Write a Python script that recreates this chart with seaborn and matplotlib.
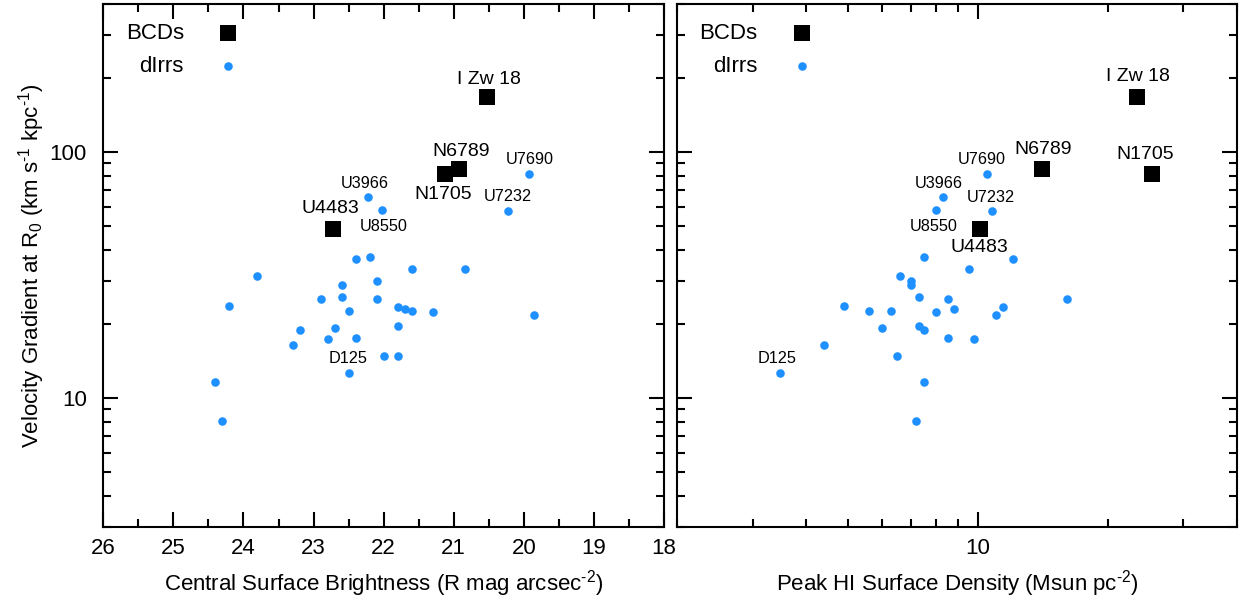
import numpy as np
import pandas as pd
import matplotlib
matplotlib.use("Agg")
import matplotlib.pyplot as plt
import matplotlib.ticker as mticker
import seaborn as sns

# ---------------- data ----------------
bcd_names = ["I Zw 18", "N6789", "N1705", "U4483"]
bcd_mu = [20.52, 20.92, 21.12, 22.72]          # R mag arcsec^-2
bcd_sigma = [23.4, 14.1, 25.3, 10.1]           # Msun pc^-2
bcd_grad = [167.0, 85.5, 81.5, 48.9]           # km/s/kpc

named_dirr = ["U7690", "U3966", "U8550", "U7232"]
named_mu = [19.93, 22.22, 22.02, 20.23]
named_sigma = [10.5, 8.32, 8.01, 10.8]
named_grad = [81.7, 65.6, 58.3, 57.5]

dirr_mu = [22.40, 22.20, 23.80, 21.60, 20.84, 22.60, 22.10, 22.90, 22.60, 22.10,
           24.20, 21.80, 21.70, 21.60, 22.50, 21.30, 19.85, 23.20, 22.70, 21.80,
           22.80, 22.40, 23.30, 22.00, 21.80, 22.50, 24.40, 24.30]
dirr_grad_l = [36.6, 37.4, 31.3, 33.4, 33.4, 28.9, 29.8, 25.4, 25.7, 25.2,
               23.7, 23.5, 23.1, 22.5, 22.6, 22.3, 21.7, 19.0, 19.3, 19.7,
               17.4, 17.5, 16.5, 14.8, 14.8, 12.7, 11.6, 8.1]

dirr_sigma = [7.50, 12.04, 9.52, 6.59, 7.00, 7.00, 7.30, 8.51, 16.1, 4.90,
              11.43, 8.81, 5.59, 6.29, 8.00, 11.04, 5.99, 7.30, 7.50, 8.51,
              9.80, 4.39, 6.50, 3.48, 7.50, 7.20]
dirr_grad_r = [37.4, 36.6, 33.4, 31.3, 29.8, 28.9, 25.7, 25.4, 25.2, 23.7,
               23.5, 23.1, 22.6, 22.5, 22.3, 21.7, 19.3, 19.7, 19.0, 17.5,
               17.4, 16.5, 14.8, 12.7, 11.6, 8.1]

# labelled small dIrr D125
d125_mu, d125_sigma, d125_grad = 22.50, 3.48, 12.7

# ---------------- style ----------------
sns.set_style("ticks")
plt.rcParams["font.family"] = ["Liberation Sans", "DejaVu Sans"]
plt.rcParams["mathtext.fontset"] = "custom"
plt.rcParams["mathtext.rm"] = "Liberation Sans"
plt.rcParams["mathtext.it"] = "Liberation Sans:italic"
plt.rcParams["axes.unicode_minus"] = False
plt.rcParams["axes.linewidth"] = 1.5
plt.rcParams["axes.edgecolor"] = "black"
plt.rcParams["text.color"] = "black"
plt.rcParams["axes.labelcolor"] = "black"
plt.rcParams["xtick.color"] = "black"
plt.rcParams["ytick.color"] = "black"

BLUE = "#1E90FF"
SQ = 125
DOT = 38
BIG = 14
SMALL = 11.7
TICKFS = 16

fig = plt.figure(figsize=(12.43, 6.01), dpi=100)
axL = fig.add_axes([0.0831, 0.1236, 0.4511, 0.8697])
axR = fig.add_axes([0.5444, 0.1236, 0.4510, 0.8697])

dL = pd.DataFrame({"x": dirr_mu + named_mu, "y": dirr_grad_l + named_grad})
bL = pd.DataFrame({"x": bcd_mu, "y": bcd_grad})
dR = pd.DataFrame({"x": dirr_sigma + named_sigma, "y": dirr_grad_r + named_grad})
bR = pd.DataFrame({"x": bcd_sigma, "y": bcd_grad})

for ax, dd, bb in [(axL, dL, bL), (axR, dR, bR)]:
    sns.scatterplot(data=bb, x="x", y="y", ax=ax, marker="s", s=SQ, color="black",
                    linewidth=0, label="BCDs", zorder=3)
    sns.scatterplot(data=dd, x="x", y="y", ax=ax, marker="o", s=DOT, color=BLUE,
                    linewidth=0, label="dIrrs", zorder=3)

# annotations (pixel offsets: dx, dy ; screen y up-positive)
bcd_off_L = {"I Zw 18": (2, 18), "N6789": (2, 17), "N1705": (-2, -21), "U4483": (-3, 20)}
bcd_off_R = {"I Zw 18": (1, 21), "N6789": (1, 19), "N1705": (-6, 19.5), "U4483": (0, -19)}
dirr_off_L = {"U7690": (1, 14.5), "U3966": (-3.5, 14), "U8550": (1.5, -16.5), "U7232": (0, 14.5)}
dirr_off_R = {"U7690": (-5, 14), "U3966": (-4.5, 14), "U8550": (-3, -16.7), "U7232": (-1.5, 14)}

for ax, xs, offs in [(axL, bcd_mu, bcd_off_L), (axR, bcd_sigma, bcd_off_R)]:
    for n, x, y in zip(bcd_names, xs, bcd_grad):
        ax.annotate(n, (x, y), xytext=offs[n], textcoords="offset pixels",
                    ha="center", va="center", fontsize=BIG)
for ax, xs, offs in [(axL, named_mu, dirr_off_L), (axR, named_sigma, dirr_off_R)]:
    for n, x, y in zip(named_dirr, xs, named_grad):
        ax.annotate(n, (x, y), xytext=offs[n], textcoords="offset pixels",
                    ha="center", va="center", fontsize=SMALL)
axL.annotate("D125", (d125_mu, d125_grad), xytext=(-1, 14), textcoords="offset pixels",
             ha="center", va="center", fontsize=SMALL)
axR.annotate("D125", (d125_sigma, d125_grad), xytext=(-3, 14), textcoords="offset pixels",
             ha="center", va="center", fontsize=SMALL)

# axes
for ax in (axL, axR):
    ax.set_yscale("log")
    ax.set_ylim(3, 400)
    ax.yaxis.set_major_locator(mticker.LogLocator(base=10))
    ax.yaxis.set_minor_locator(mticker.LogLocator(base=10, subs=np.arange(2, 10)))
    ax.yaxis.set_minor_formatter(mticker.NullFormatter())
    ax.tick_params(which="both", direction="in", top=True, right=True, width=1.5,
                   labelsize=TICKFS, color="black", labelcolor="black")
    ax.tick_params(which="major", length=11)
    ax.tick_params(which="minor", length=5.5)
    for sp in ax.spines.values():
        sp.set_visible(True)
        sp.set_linewidth(1.5)
        sp.set_color("black")
    leg = ax.legend(loc="upper left", bbox_to_anchor=(0.022, 0.983), frameon=False,
                    markerfirst=False, fontsize=16, handletextpad=1.0, labelspacing=0.55,
                    borderaxespad=0.0, borderpad=0.45, handlelength=2.0)

axL.yaxis.set_major_formatter(mticker.FuncFormatter(lambda v, p: f"{v:g}"))
axL.tick_params(axis="y", pad=12)
axR.yaxis.set_major_formatter(mticker.NullFormatter())

axL.set_xlim(26, 18)
axL.xaxis.set_major_locator(mticker.MultipleLocator(1))
axL.xaxis.set_minor_locator(mticker.MultipleLocator(0.5))
axL.xaxis.set_major_formatter(mticker.FuncFormatter(lambda v, p: f"{v:.0f}"))
axL.tick_params(axis="x", pad=8)

axR.set_xscale("log")
axR.set_xlim(2, 40)
axR.xaxis.set_major_locator(mticker.LogLocator(base=10))
axR.xaxis.set_minor_locator(mticker.LogLocator(base=10, subs=np.arange(2, 10)))
axR.xaxis.set_major_formatter(mticker.FuncFormatter(lambda v, p: f"{v:g}"))
axR.xaxis.set_minor_formatter(mticker.NullFormatter())
axR.tick_params(axis="x", pad=8)

axL.set_xlabel(r"Central Surface Brightness (R mag arcsec$^{\text{-2}}$)", fontsize=16, labelpad=7)
axR.set_xlabel(r"Peak HI Surface Density (Msun pc$^{\text{-2}}$)", fontsize=16, labelpad=7)
axL.set_ylabel(r"Velocity Gradient at R$_{\text{0}}$ (km s$^{\text{-1}}$ kpc$^{\text{-1}}$)",
               fontsize=16, labelpad=2)
axR.set_ylabel("")

fig.savefig("out.png", dpi=100)
